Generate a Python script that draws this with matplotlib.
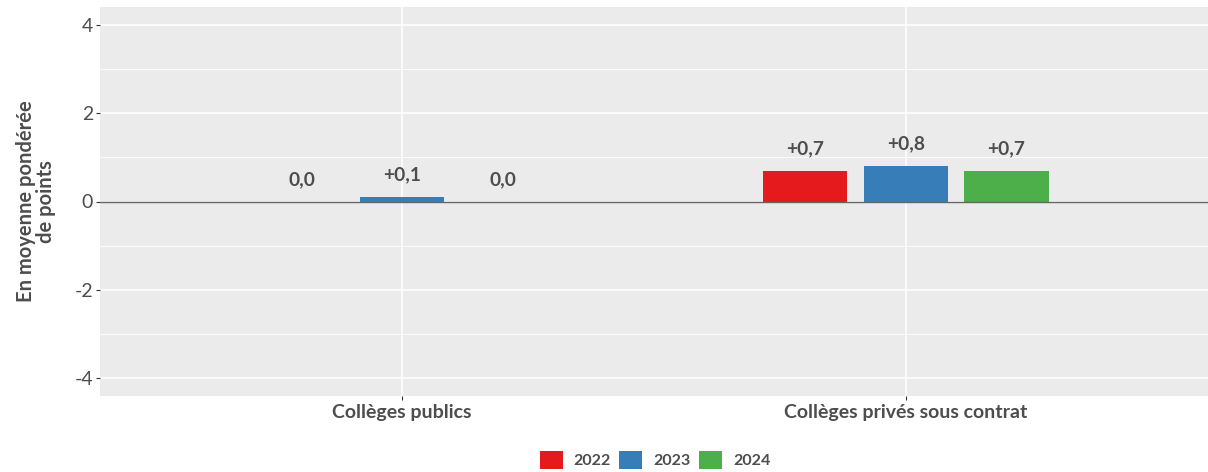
import numpy as np
import matplotlib
matplotlib.use("Agg")
import matplotlib.pyplot as plt
from matplotlib.patches import Patch

plt.rcParams['font.family'] = ['Lato', 'DejaVu Sans']

# Données
categories = ["Collèges publics", "Collèges privés sous contrat"]
annees = ["2022", "2023", "2024"]
valeurs = {
    "2022": [0.0, 0.7],
    "2023": [0.1, 0.8],
    "2024": [0.0, 0.7],
}
etiquettes = {
    "2022": ["0,0", "+0,7"],
    "2023": ["+0,1", "+0,8"],
    "2024": ["0,0", "+0,7"],
}
couleurs = ["#E41A1C", "#377EB8", "#4DAF4A"]
yticks = [-4, -2, 0, 2, 4]

texte_gris = "#4d4d4d"

fig = plt.figure(figsize=(12.08, 4.72), dpi=100)
ax = fig.add_axes([100 / 1208, 1 - 396 / 472, 1108 / 1208, 389 / 472])
ax.set_facecolor("#ebebeb")

x = np.arange(1, len(categories) + 1)
decalage = 0.2
largeur = 0.168

for i, annee in enumerate(annees):
    pos = x + (i - 1) * decalage
    ax.bar(pos, valeurs[annee], width=largeur, color=couleurs[i], zorder=3)
    for xp, v, lab in zip(pos, valeurs[annee], etiquettes[annee]):
        ax.text(xp, v + 0.5, lab, ha="center", va="center", fontsize=13.8,
                fontweight="bold", color=texte_gris, zorder=4)

ax.axhline(0, color="#666666", lw=1.0, zorder=3)

ax.set_xlim(0.4, 2.6)
ax.set_ylim(-4.4, 4.4)
ax.set_yticks(yticks)
ax.set_yticklabels([str(t) for t in yticks])
ax.set_yticks([-3, -1, 1, 3], minor=True)
ax.set_xticks(x)
ax.set_xticklabels(categories, fontweight="bold")

ax.grid(True, which="major", color="white", lw=1.1, zorder=0)
ax.grid(True, which="minor", axis="y", color="white", lw=0.6, zorder=0)
ax.set_axisbelow(True)
for s in ax.spines.values():
    s.set_visible(False)

ax.tick_params(axis="y", which="major", length=3, color="#333333", labelsize=14,
               labelcolor=texte_gris, pad=2)
ax.tick_params(axis="y", which="minor", length=0)
ax.tick_params(axis="x", length=3, color="#333333", labelsize=14,
               labelcolor=texte_gris, pad=3)

ax.set_ylabel("En moyenne pondérée\nde points", fontsize=14.5, fontweight="bold",
              color=texte_gris, labelpad=13, linespacing=1.05)

handles = [Patch(facecolor=c, edgecolor="none", label=a) for a, c in zip(annees, couleurs)]
leg = fig.legend(handles=handles, loc="center", bbox_to_anchor=(655 / 1208, 1 - 460 / 472),
                 ncol=3, frameon=False, handlelength=1.45, handleheight=1.45,
                 handletextpad=0.7, columnspacing=0.5,
                 prop={"weight": "bold", "size": 11.5})
for t in leg.get_texts():
    t.set_color(texte_gris)

fig.savefig("out.png", dpi=100)
